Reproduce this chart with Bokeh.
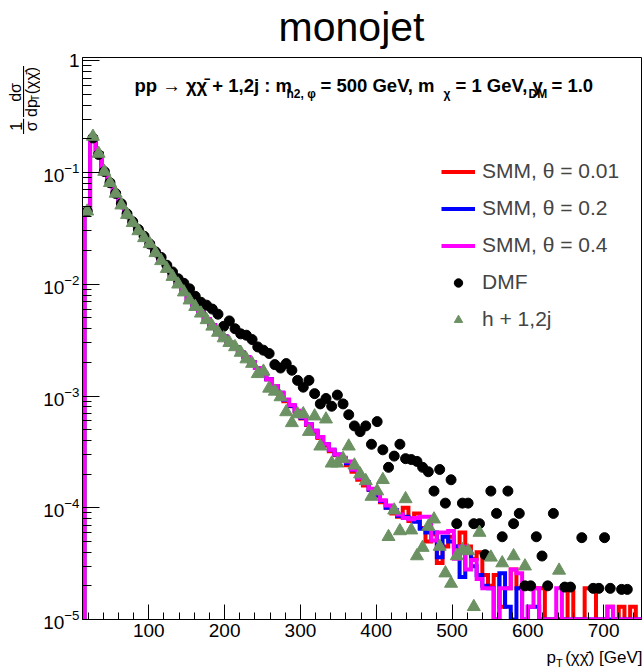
import math
import numpy as np
from bokeh.plotting import figure
from bokeh.layouts import column, row
from bokeh.models import Range1d, FixedTicker, Label, Legend, LegendItem
from bokeh.core.properties import value
from bokeh.embed import file_html
from bokeh.resources import INLINE

# ---------------- data (pT bins of 7.5 GeV starting at 15 GeV) ----------------
BIN_LO = 15.0
BIN_W = 7.5
N_BINS = 98

SMM_04 = [4.5e-2, 2.0e-1, 1.48e-1, 1.02e-1, 8.1e-2, 6.5e-2, 5.1e-2, 4.2e-2, 3.55e-2, 3.0e-2,
          2.6e-2, 2.3e-2, 1.95e-2, 1.66e-2, 1.41e-2, 1.2e-2, 1.02e-2, 8.7e-3, 7.4e-3, 6.5e-3,
          5.6e-3, 4.9e-3, 4.3e-3, 3.8e-3, 3.4e-3, 3.0e-3, 2.75e-3, 2.45e-3, 2.24e-3, 2.0e-3,
          1.78e-3, 1.58e-3, 1.41e-3, 1.23e-3, 1.07e-3, 9.3e-4, 8.3e-4, 7.4e-4, 6.5e-4, 5.6e-4,
          4.9e-4, 4.3e-4, 3.7e-4, 3.3e-4, 3.0e-4, 2.8e-4, 2.6e-4, 2.2e-4, 1.86e-4, 1.66e-4,
          1.48e-4, 1.35e-4, 1.17e-4, 1.05e-4, 9.3e-5, 8.7e-5, 8.1e-5, 7.9e-5, 8.1e-5, 8.3e-5,
          8.3e-5, 5.1e-5, 6.0e-5, 6.0e-5, 6.2e-5, 3.5e-5, 4.5e-5, 2.8e-5, 3.4e-5, 2.3e-5,
          1.9e-5, 1.9e-5, 0, 1.9e-5, 1.9e-5, 2.8e-5, 2.6e-5, 0, 1.3e-5, 1.9e-5,
          0, 0, 0, 1.9e-5, 0, 0, 0, 0, 0, 0,
          0, 0, 1.3e-5, 0, 0, 0, 0, 0]

SMM_001 = [4.5e-2, 2.0e-1, 1.48e-1, 1.02e-1, 8.1e-2, 6.5e-2, 5.1e-2, 4.2e-2, 3.55e-2, 3.0e-2,
           2.6e-2, 2.3e-2, 1.95e-2, 1.66e-2, 1.41e-2, 1.2e-2, 1.02e-2, 8.7e-3, 7.4e-3, 6.5e-3,
           5.6e-3, 4.9e-3, 4.3e-3, 3.8e-3, 3.4e-3, 3.0e-3, 2.75e-3, 2.45e-3, 2.24e-3, 2.0e-3,
           1.78e-3, 1.58e-3, 1.41e-3, 1.2e-3, 1.05e-3, 9.0e-4, 8.1e-4, 7.2e-4, 6.3e-4, 5.5e-4,
           4.8e-4, 4.2e-4, 3.6e-4, 3.2e-4, 2.95e-4, 2.75e-4, 2.4e-4, 2.1e-4, 1.78e-4, 1.58e-4,
           1.45e-4, 1.26e-4, 1.12e-4, 1.0e-4, 8.9e-5, 8.3e-5, 1.0e-4, 7.6e-5, 8.9e-5, 6.6e-5,
           5.0e-5, 5.8e-5, 3.2e-5, 4.5e-5, 5.5e-5, 4.5e-5, 6.0e-5, 4.5e-5, 3.5e-5, 4.0e-5,
           2.5e-5, 2.0e-5, 2.5e-5, 1.3e-5, 1.9e-5, 2.8e-5, 1.9e-5, 1.9e-5, 1.9e-5, 1.9e-5,
           1.9e-5, 0, 0, 0, 0, 1.9e-5, 0, 0, 1.9e-5, 1.9e-5,
           0, 0, 1.3e-5, 0, 1.3e-5, 0, 1.3e-5, 0]

SMM_02 = [4.5e-2, 2.0e-1, 1.48e-1, 1.02e-1, 8.1e-2, 6.5e-2, 5.1e-2, 4.2e-2, 3.55e-2, 3.0e-2,
          2.6e-2, 2.3e-2, 1.95e-2, 1.66e-2, 1.41e-2, 1.2e-2, 1.02e-2, 8.7e-3, 7.4e-3, 6.5e-3,
          5.6e-3, 4.9e-3, 4.3e-3, 3.8e-3, 3.4e-3, 3.0e-3, 2.75e-3, 2.45e-3, 2.24e-3, 2.0e-3,
          1.78e-3, 1.58e-3, 1.41e-3, 1.23e-3, 1.07e-3, 9.2e-4, 8.2e-4, 7.3e-4, 6.4e-4, 5.6e-4,
          4.9e-4, 4.3e-4, 3.7e-4, 3.3e-4, 3.0e-4, 2.7e-4, 2.5e-4, 2.2e-4, 1.9e-4, 1.7e-4,
          1.45e-4, 1.3e-4, 1.15e-4, 1.0e-4, 9.5e-5, 8.5e-5, 8.3e-5, 8.0e-5, 7.5e-5, 6.5e-5,
          6.0e-5, 6.0e-5, 3.6e-5, 5.5e-5, 5.0e-5, 4.5e-5, 2.4e-5, 4.0e-5, 3.0e-5, 2.5e-5,
          2.0e-5, 1.9e-5, 0, 2.6e-5, 1.3e-5, 0, 1.9e-5, 0, 1.3e-5, 1.3e-5,
          0, 0, 0, 0, 0, 0, 0, 0, 0, 0,
          0, 0, 0, 0, 0, 0, 0, 0]

DMF = [4.5e-2, 2.04e-1, 1.45e-1, 1.02e-1, 8.1e-2, 6.5e-2, 5.25e-2, 4.27e-2, 3.63e-2, 3.09e-2,
       2.69e-2, 2.29e-2, 1.95e-2, 1.74e-2, 1.48e-2, 1.29e-2, 1.12e-2, 1.02e-2, 9.1e-3, 7.8e-3,
       6.9e-3, 6.5e-3, 6.0e-3, 5.4e-3, 4.2e-3, 4.7e-3, 4.0e-3, 3.6e-3, 3.5e-3, 3.2e-3,
       2.75e-3, 2.57e-3, 2.4e-3, 1.91e-3, 1.78e-3, 1.95e-3, 1.7e-3, 1.38e-3, 1.2e-3, 1.38e-3,
       1.05e-3, 8.5e-4, 9.5e-4, 8.1e-4, 1.02e-3, 8.5e-4, 6.8e-4, 5.4e-4, 4.8e-4, 5.4e-4,
       3.7e-4, 5.9e-4, 3.3e-4, 2.3e-4, 2.9e-4, 3.7e-4, 2.75e-4, 2.7e-4, 2.6e-4, 2.3e-4,
       2.1e-4, 1.41e-4, 2.2e-4, 1.1e-4, 1.78e-4, 7.2e-5, 1.1e-4, 1.1e-4, 7.2e-5, 7.2e-5,
       3.8e-5, 1.41e-4, 8.9e-5, 5.5e-5, 1.41e-4, 7.2e-5, 8.9e-5, 2.0e-5, 2.0e-5, 5.5e-5,
       3.7e-5, 2.0e-5, 8.9e-5, 0, 1.95e-5, 1.95e-5, 0, 5.4e-5, 0, 1.9e-5,
       1.9e-5, 5.4e-5, 1.9e-5, 0, 1.86e-5, 1.86e-5, 0, 0]

H12J = [4.5e-2, 2.1e-1, 1.48e-1, 1.02e-1, 8.1e-2, 6.5e-2, 5.1e-2, 4.2e-2, 3.55e-2, 3.0e-2,
        2.6e-2, 2.3e-2, 1.91e-2, 1.62e-2, 1.38e-2, 1.17e-2, 1.0e-2, 8.5e-3, 7.2e-3, 6.3e-3,
        5.5e-3, 4.8e-3, 4.2e-3, 3.7e-3, 3.3e-3, 3.0e-3, 2.75e-3, 2.45e-3, 2.14e-3, 1.95e-3,
        1.58e-3, 1.66e-3, 1.17e-3, 1.1e-3, 9.8e-4, 7.2e-4, 5.75e-4, 6.9e-4, 6.9e-4, 4.8e-4,
        6.6e-4, 3.55e-4, 6.2e-4, 2.5e-4, 2.5e-4, 2.75e-4, 3.55e-4, 2.4e-4, 2.0e-4, 1.74e-4,
        1.26e-4, 1.41e-4, 1.78e-4, 5.5e-5, 9.5e-5, 6.2e-5, 1.2e-4, 6.3e-5, 3.7e-5, 4.4e-5,
        6.8e-5, 7.9e-5, 4.5e-5, 2.6e-5, 2.1e-5, 3.7e-5, 4.2e-5, 4.1e-5, 1.3e-5, 6.0e-5,
        0, 3.6e-5, 0, 3.2e-5, 0, 3.7e-5, 0, 3.0e-5, 0, 0,
        0, 0, 0, 2.75e-5, 0, 0, 0, 0, 0, 0,
        0, 0, 0, 0, 0, 0, 0, 0]

LEGEND_LABELS = ["SMM, \u03b8 = 0.01", "SMM, \u03b8 = 0.2", "SMM, \u03b8 = 0.4", "DMF", "h + 1,2j"]

X_MAJOR = [100, 200, 300, 400, 500, 600, 700]
Y_MAJOR = [1e-5, 1e-4, 1e-3, 1e-2, 1e-1, 1.0]

# ---------------- geometry / style (page pixels) ----------------
Y_MIN = 1e-5
PAGE_W, PAGE_H = 643, 668
TOP_H = 50          # title strip
LEFT_W = 40         # y-title strip
BOT_H = 22          # x-title strip
MID_H = PAGE_H - TOP_H - BOT_H
FRAME_L, FRAME_T, FRAME_R, FRAME_B = 81, 57, 641, 619
FONT = "Liberation Sans"

edges = BIN_LO + BIN_W * np.arange(N_BINS + 1)
centers = 0.5 * (edges[:-1] + edges[1:])


class Strip:
    """a blank figure whose data units are page pixels"""

    def __init__(self, w, h, x0, y0):
        self.x0, self.y0, self.h = x0, y0, h
        f = figure(width=w, height=h, x_range=Range1d(x0, x0 + w), y_range=Range1d(0, h),
                   x_axis_type=None, y_axis_type=None, output_backend="svg",
                   toolbar_location=None, min_border=0, min_border_left=0, min_border_right=0,
                   min_border_top=0, min_border_bottom=0)
        f.outline_line_color = None
        f.grid.visible = False
        f.background_fill_color = "white"
        f.border_fill_color = "white"
        self.fig = f

    def y(self, Y):
        return self.h - (Y - self.y0)

    def text(self, s, X, Y, size, align="left", angle=0.0, style="normal"):
        self.fig.text(x=[X], y=[self.y(Y)], text=[s], text_font=value(FONT),
                      text_font_size=value(f"{size}px"), text_font_style=style,
                      text_color="black", text_align=align, text_baseline="middle", angle=angle)

    def vbar(self, X0, X1, Y0, Y1):
        self.fig.quad(left=[X0], right=[X1], bottom=[self.y(Y1)], top=[self.y(Y0)],
                      fill_color="black", line_color=None)


top = Strip(PAGE_W, TOP_H, 0, 0)
left = Strip(LEFT_W, MID_H, 0, TOP_H)
bottom = Strip(PAGE_W, BOT_H, 0, TOP_H + MID_H)

p = figure(width=PAGE_W - LEFT_W, height=MID_H, x_range=Range1d(12.5, 750),
           y_range=Range1d(Y_MIN, 1.07), y_axis_type="log", output_backend="svg",
           toolbar_location=None,
           min_border_left=FRAME_L - LEFT_W, min_border_right=PAGE_W - FRAME_R,
           min_border_top=FRAME_T - TOP_H, min_border_bottom=TOP_H + MID_H - FRAME_B)
p.grid.visible = False
p.outline_line_color = "black"
p.outline_line_width = 1
p.background_fill_color = "white"
p.border_fill_color = "white"


def step_xy(vals):
    xs = [edges[0]]
    ys = [Y_MIN]
    for i, v in enumerate(vals):
        y = v if v > 0 else Y_MIN
        xs += [edges[i], edges[i + 1]]
        ys += [y, y]
    return xs, ys


renderers = []
for vals, col in [(SMM_001, "#ff0000"), (SMM_02, "#0000ff"), (SMM_04, "#ff00ff")]:
    xs, ys = step_xy(vals)
    renderers.append(p.line(xs, ys, line_color=col, line_width=4, line_join="miter"))

dm_x = [c for c, v in zip(centers, DMF) if v > 0]
dm_y = [v for v in DMF if v > 0]
renderers.append(p.scatter(dm_x, dm_y, marker="circle", size=10, fill_color="black",
                           line_color="black"))

h_x = [c for c, v in zip(centers, H12J) if v > 0]
h_y = [v for v in H12J if v > 0]
renderers.append(p.scatter(h_x, h_y, marker="triangle", size=13, fill_color="#6c9163",
                           line_color="#6c9163"))

# axes
p.xaxis.ticker = FixedTicker(ticks=X_MAJOR, minor_ticks=list(range(20, 751, 20)))
p.yaxis.ticker = FixedTicker(ticks=Y_MAJOR,
                             minor_ticks=[m * 10.0 ** e for e in range(-5, 0) for m in range(2, 10)])
p.yaxis.major_label_overrides = {1: "1"}
for ax in (p.xaxis, p.yaxis):
    ax.axis_line_color = "black"
    ax.major_tick_line_color = "black"
    ax.minor_tick_line_color = "black"
    ax.major_tick_out = 0
    ax.minor_tick_out = 0
    ax.major_label_text_font = FONT
    ax.major_label_text_font_size = "19px"
    ax.major_label_text_color = "black"
p.xaxis.major_tick_in = 15
p.xaxis.minor_tick_in = 7
p.yaxis.major_tick_in = 17
p.yaxis.minor_tick_in = 9
p.xaxis.major_label_standoff = 4
p.yaxis.major_label_standoff = 3

# legend
legend = Legend(items=[LegendItem(label=l, renderers=[r]) for l, r in zip(LEGEND_LABELS, renderers)],
                location=(440 - FRAME_L, FRAME_B - 331), margin=0, padding=0,
                border_line_alpha=0, background_fill_alpha=0,
                glyph_width=34, glyph_height=21, label_height=21, spacing=13, label_standoff=7,
                label_text_font=FONT, label_text_font_size="21px")
p.add_layout(legend)


def flab(text, X, Y, size, bold=False):
    """label inside the main frame, page pixels, Y = vertical centre"""
    p.add_layout(Label(x=X - FRAME_L, y=FRAME_B - Y, x_units="screen", y_units="screen",
                       text=text, text_font=FONT, text_font_size=f"{size}px",
                       text_font_style="bold" if bold else "normal", text_color="black",
                       text_align="left", text_baseline="middle"))


# title
top.text("monojet", 351, 26.5, 41, align="center")

# subtitle (bold, with subscripts)
flab("pp \u2192 \u03c7\u03c7\u0304 + 1,2j : m", 133, 85, 18.5, bold=True)
flab("h2, \u03c6", 285, 93, 12, bold=True)
flab("= 500 GeV, m", 319, 85, 18.5, bold=True)
flab("\u03c7", 442, 93, 12, bold=True)
flab("= 1 GeV, y", 454, 85, 18.5, bold=True)
flab("DM", 527, 93, 12, bold=True)
flab("= 1.0", 550, 85, 18.5, bold=True)

# y-axis title: rotated fraction  (1/sigma) d sigma / d p_T
ROT = math.pi / 2
left.text("1", 15, 123, 16, align="center", angle=ROT)
left.text("\u03c3", 31, 123, 16, align="center", angle=ROT)
left.vbar(22.5, 23.6, 115, 131)
left.text("d\u03c3", 15, 87, 16, align="center", angle=ROT)
left.vbar(22.5, 23.6, 59, 113)
left.text("dp", 31, 113, 16, align="left", angle=ROT)
left.text("T", 34.5, 96, 10, align="left", angle=ROT)
left.text("(\u03c7\u03c7\u0304)", 31, 89, 16, align="left", angle=ROT)

# x-axis title
bottom.text("p", 546, 657, 17)
bottom.text("T", 555.5, 662, 11)
bottom.text("(\u03c7\u03c7\u0304) [GeV]", 642, 657, 17, align="right")

layout = column(top.fig, row(left.fig, p), bottom.fig)
open("out.html", "w").write(file_html(layout, INLINE))
